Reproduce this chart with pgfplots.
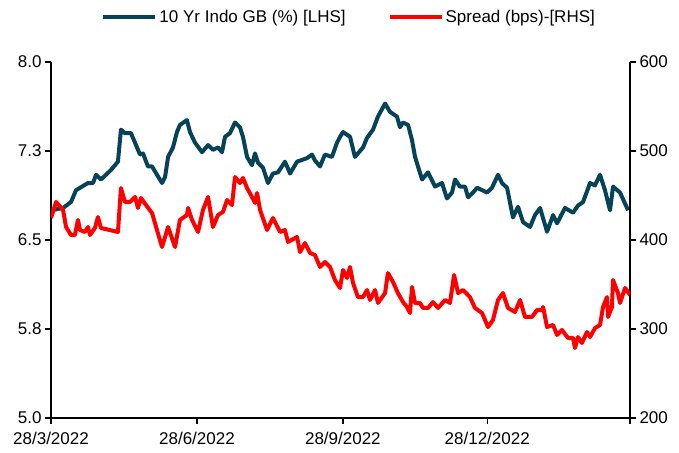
\documentclass[border=0pt]{standalone}
\usepackage{fontspec}
\setmainfont{Liberation Sans}
\usepackage{pgfplots}
\pgfplotsset{compat=1.18}

\definecolor{gbblue}{RGB}{6,66,88}
\definecolor{sprred}{RGB}{255,0,0}

\pgfplotsset{
  base/.style={
    scale only axis,
    width=579pt, height=356pt,
    xmin=0, xmax=365,
    enlargelimits=false,
    /pgf/number format/assume math mode=true,
    tick label style={font=\fontsize{17}{20}\selectfont, text=black},
    axis line style={black, line width=1.6pt},
    major tick style={black, line width=1.4pt},
    tick align=outside,
    major tick length=6pt,
  }
}

\begin{document}
\begin{tikzpicture}
\begin{axis}[
    base,
    axis x line*=bottom,
    axis y line*=left,
    ymin=5, ymax=8,
    ytick={5,5.75,6.5,7.25,8},
    yticklabels={5.0,5.8,6.5,7.3,8.0},
    xtick={0,92,184,275,365},
    xticklabels={28/3/2022,28/6/2022,28/9/2022,28/12/2022,},
    xticklabel style={yshift=-5pt},
    legend columns=2,
    legend style={
      at={(0.515,1.126)}, anchor=center, draw=none, fill=none,
      font=\fontsize{17}{20}\selectfont,
      /tikz/every even column/.append style={column sep=40pt},
      nodes={inner sep=2pt},
    },
    legend image code/.code={\draw[#1, line cap=butt] (0pt,0pt) -- (52pt,0pt);},
]
\addplot[gbblue, line width=4pt, line join=round] coordinates {
(0,6.75) (7.6,6.77) (12.6,6.82) (15.8,6.92) (23.3,6.98) (26.5,6.98) (28.4,7.05)
(31.5,7.01) (37.8,7.09) (42.2,7.16) (44.1,7.43) (46.6,7.40) (50.4,7.40) (53.6,7.30)
(56.1,7.22) (58,7.23) (61.1,7.12) (63.7,7.12) (66.8,7.05) (70,6.98) (71.9,7.03)
(73.8,7.20) (76.9,7.28) (79.4,7.41) (81.3,7.47) (85.7,7.51) (87.6,7.41) (90.8,7.32)
(95.2,7.24) (99,7.30) (102.1,7.26) (105.3,7.28) (107.8,7.24) (109.7,7.37) (112.8,7.40)
(116,7.49) (119.1,7.45) (121,7.37) (123.6,7.20) (126.7,7.13) (128.6,7.23) (130.5,7.15)
(133.6,7.11) (136.8,6.98) (139.9,7.06) (143.1,7.07) (147.5,7.16) (150.7,7.06) (155.1,7.16)
(161.4,7.19) (164.5,7.22) (166.4,7.17) (169.6,7.12) (172.7,7.22) (177.1,7.20) (180.3,7.32)
(182.2,7.37) (184.1,7.41) (188.5,7.37) (191.6,7.20) (196.7,7.28) (199.2,7.36) (203,7.43)
(206.1,7.54) (210.6,7.65) (213.7,7.58) (218.1,7.54) (220,7.45) (221.9,7.49) (225.1,7.47)
(227.6,7.34) (229.5,7.20) (233.9,7.01) (237.7,7.07) (242.1,6.95) (246.5,6.98) (249.6,6.85)
(252.8,6.90) (254.7,7.01) (257.8,6.95) (261,6.95) (262.9,6.86) (266,6.90) (268.6,6.94)
(274.9,6.90) (278,6.94) (281.8,7.05) (284.3,6.98) (287.5,6.94) (291.2,6.69) (294.4,6.78)
(297.6,6.65) (302,6.61) (305.1,6.71) (308.3,6.77) (312.7,6.57) (316.5,6.71) (319,6.64)
(324,6.77) (329.1,6.73) (332.2,6.79) (335.4,6.82) (339.8,6.98) (342.9,6.96) (346.1,7.05)
(349.2,6.92) (352.4,6.75) (354.3,6.95) (358.7,6.90) (363.8,6.75)
};
\addlegendentry{10 Yr Indo GB (\%) [LHS]}
\addlegendimage{sprred, line width=4pt}
\addlegendentry{Spread (bps)-[RHS]}
\coordinate (o) at (rel axis cs:0,0);
\end{axis}

\begin{axis}[
    base,
    axis x line=none,
    axis y line*=right,
    ymin=200, ymax=600,
    ytick={200,300,400,500,600},
]
\addplot[sprred, line width=4pt, line join=round] coordinates {
(0,424.7) (3.2,442.7) (7.6,433.7) (9.5,414.6) (12.6,405.6) (15.1,405.6) (17,422.5)
(18.3,411.2) (21.4,409) (23.3,414.6) (24.6,405.6) (27.7,413.5) (29.6,425.8) (31.5,413.5)
(42.2,409) (44.1,458.4) (46.6,442.7) (49.8,442.7) (53,448.3) (54.8,436) (56.7,447.2)
(59.9,439.3) (63.7,430.3) (66.8,411.2) (70,392.1) (73.8,414.6) (78.2,392.1) (81.3,422.5)
(85.7,428.1) (86.4,436) (88.9,422.5) (92.7,409) (95.8,433.7) (99,448.3) (102.1,414.6)
(105.3,428.1) (108.4,431.5) (111,444.9) (114.1,439.3) (116,470.8) (119.1,464) (121,469.7)
(123.6,458.4) (126.7,448.3) (128.6,441.6) (129.9,452.8) (131.8,433.7) (136.2,411.2)
(139.9,424.7) (144.4,409) (147.5,411.2) (149.4,397.8) (155.1,403.4) (157,386.5)
(160.1,396.6) (163.3,385.4) (166.4,383.1) (169.6,369.7) (172.7,375.3) (175.9,369.7)
(179,355) (182.2,346.1) (184.1,366.3) (186.6,357.3) (188.5,369.7) (190.4,351.7)
(193.5,335.9) (196.7,335.9) (199.2,343.8) (201.1,332.6) (204.3,343.8) (206.1,329.2)
(210.6,340.4) (212.4,362.9) (215.6,352.8) (218.7,340.4) (221.9,330.3) (224.4,324.7)
(226.3,318) (227.6,347.2) (229.5,329.2) (232.6,329.2) (234.5,323.6) (237.7,323.6)
(240.8,330.3) (244,323.6) (248.4,332.6) (251.5,329.2) (254.1,360.7) (256.6,340.4)
(259.7,343.8) (264.1,335.9) (267.3,323.6) (271.7,318) (275.5,302.2) (278.6,310.1)
(281.8,332.6) (284.9,340.4) (288.1,323.6) (292.5,319.1) (295.7,332.6) (298.8,313.5)
(303.2,313.5) (306.4,321.3) (309.5,321.3) (310.2,324.7) (312.7,302.2) (316.5,304.5)
(319,293.3) (322.1,298.9) (325.9,289.9) (329.1,289.9) (330.3,278.7) (332.2,291)
(334.7,284.3) (337.9,296.6) (339.8,291) (343,301.1) (346.1,304.5) (348,324.7)
(350.5,335.9) (351.2,313.5) (353.6,324.7) (354.3,355) (357.4,340.4) (358.7,329.2)
(361.9,346.1) (365,338.2)
};
\end{axis}
\path (o) ++(-51pt,-34pt) rectangle ++(679pt,452pt);
\end{tikzpicture}
\end{document}
